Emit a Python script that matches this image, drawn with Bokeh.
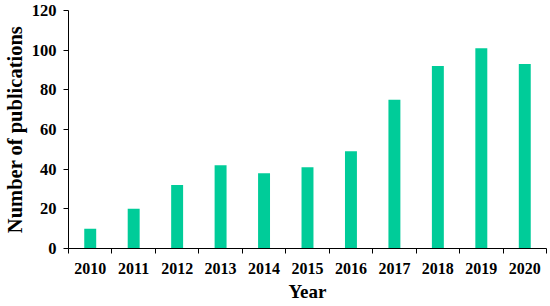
from bokeh.plotting import figure
from bokeh.models import FixedTicker, ColumnDataSource, Range1d
from bokeh.embed import file_html
from bokeh.resources import INLINE

years = [2010, 2011, 2012, 2013, 2014, 2015, 2016, 2017, 2018, 2019, 2020]
publications = [10, 20, 32, 42, 38, 41, 49, 75, 92, 101, 93]
y_ticks = [0, 20, 40, 60, 80, 100, 120]

bar_color = "#00CC99"
font = "Liberation Serif"

src = ColumnDataSource(dict(year=years, count=publications))

p = figure(width=550, height=306, output_backend="svg", toolbar_location=None,
           x_range=Range1d(years[0] - 0.5, years[-1] + 0.5),
           y_range=Range1d(0, 120),
           min_border_top=10, min_border_left=67, min_border_right=4, min_border_bottom=58)

p.vbar(x="year", top="count", width=0.275, source=src, color=bar_color, line_color=None)

p.outline_line_color = None
p.xgrid.visible = False
p.ygrid.visible = False

xa = p.xaxis[0]
xa.ticker = FixedTicker(ticks=years, minor_ticks=[y - 0.5 for y in years] + [years[-1] + 0.5])
xa.major_tick_line_color = None
xa.minor_tick_out = 5
xa.minor_tick_in = 0
xa.minor_tick_line_color = "black"
xa.axis_line_color = "black"
xa.major_label_standoff = 8
xa.major_label_text_font = font
xa.major_label_text_font_style = "bold"
xa.major_label_text_font_size = "16px"
xa.major_label_text_color = "black"
xa.axis_label = "Year"
xa.axis_label_text_font = font
xa.axis_label_text_font_style = "bold"
xa.axis_label_text_font_size = "19px"
xa.axis_label_text_color = "black"
xa.axis_label_standoff = 4

ya = p.yaxis[0]
ya.ticker = FixedTicker(ticks=y_ticks, minor_ticks=[])
ya.major_tick_out = 5
ya.major_tick_in = 0
ya.major_tick_line_color = "black"
ya.minor_tick_line_color = None
ya.axis_line_color = "black"
ya.major_label_standoff = 7
ya.major_label_text_font = font
ya.major_label_text_font_style = "bold"
ya.major_label_text_font_size = "16.5px"
ya.major_label_text_color = "black"
ya.axis_label = "Number of publications"
ya.axis_label_text_font = font
ya.axis_label_text_font_style = "bold"
ya.axis_label_text_font_size = "20.5px"
ya.axis_label_text_color = "black"
ya.axis_label_standoff = 3

open("out.html", "w").write(file_html(p, INLINE))
